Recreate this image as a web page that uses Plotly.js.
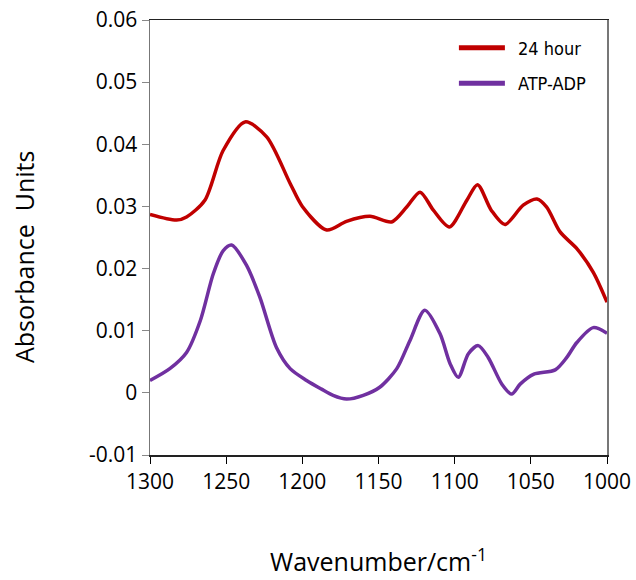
<!DOCTYPE html>
<html><head><meta charset="utf-8">
<script src="https://cdn.plot.ly/plotly-3.0.1.min.js"></script>
<style>body{margin:0;padding:0;background:#fff}#chart{width:636px;height:580px}</style>
</head><body><div id="chart"></div>
<script>
var wn24 = [1300,1282.5,1276,1264,1252,1237.6,1223.4,1208,1200,1184,1171,1155.6,1141.4,1131.5,1122.7,1114,1103.5,1092,1085,1076,1067,1055,1046,1039.6,1030.8,1019.8,1009,1000];
var abs24 = [0.0287,0.0278,0.0283,0.0310,0.0390,0.0436,0.0412,0.0337,0.0300,0.0262,0.0276,0.0284,0.0275,0.0299,0.0323,0.0294,0.0267,0.0310,0.0335,0.0294,0.0271,0.0302,0.0312,0.0299,0.0259,0.0232,0.0194,0.0146];
var wnATP = [1300,1287,1276,1267,1258.4,1251.9,1246.4,1236.6,1227.9,1217,1208,1197.2,1187.4,1179.8,1171,1160,1149.2,1138,1129.4,1119.6,1109.6,1103,1097.6,1091,1084.5,1078,1069,1062.6,1057,1048,1034,1026.4,1019.8,1009,1000];
var absATP = [0.0020,0.0039,0.0065,0.0116,0.0192,0.0229,0.0238,0.0205,0.0154,0.0073,0.0039,0.0020,0.0006,-0.0004,-0.0010,-0.0004,0.0009,0.0039,0.0084,0.0133,0.0095,0.0047,0.0025,0.0063,0.0076,0.0057,0.0014,-0.0002,0.0014,0.0030,0.0037,0.0057,0.0081,0.0105,0.0096];
var seriesNames = ['24 hour', 'ATP-ADP'];
var seriesColors = ['#C00000', '#7030A0'];
var xTicks = [1300,1250,1200,1150,1100,1050,1000];
var yTicks = [-0.01,0,0.01,0.02,0.03,0.04,0.05,0.06];
var yTickText = ['-0.01','0','0.01','0.02','0.03','0.04','0.05','0.06'];

var traces = [
 {x: wn24, y: abs24, name: seriesNames[0], mode: 'lines', showlegend: false, line: {color: seriesColors[0], width: 3.5, shape: 'spline', smoothing: 0.8}},
 {x: wnATP, y: absATP, name: seriesNames[1], mode: 'lines', showlegend: false, line: {color: seriesColors[1], width: 3.5, shape: 'spline', smoothing: 0.8}},
 {x: [null], y: [null], name: '\u2002' + seriesNames[0], legendgroup: 'a', mode: 'lines', line: {color: seriesColors[0], width: 5}},
 {x: [null], y: [null], name: '\u2002' + seriesNames[1], legendgroup: 'b', mode: 'lines', line: {color: seriesColors[1], width: 5}}
];
var font = 'Open Sans, Liberation Sans, Arial, sans-serif';
var layout = {
 width: 636, height: 580,
 margin: {l: 150, r: 29, t: 20, b: 125},
 paper_bgcolor: '#fff', plot_bgcolor: '#fff',
 showlegend: true,
 legend: {x: 0.665, y: 0.978, xanchor: 'left', yanchor: 'top', bgcolor: 'rgba(0,0,0,0)',
   font: {family: 'Liberation Sans Narrow, DejaVu Sans Condensed, sans-serif', size: 18, color: '#000'}, tracegroupgap: 9, itemwidth: 46},
 xaxis: {range: [1300, 1000], tickvals: xTicks, ticktext: xTicks.map(String), ticks: 'outside', ticklen: 7, tickcolor: '#000', tickwidth: 1,
   showline: true, linecolor: '#222', linewidth: 1.5, mirror: true, showgrid: false, zeroline: false,
   tickfont: {family: font, size: 21, color: '#000'},
   title: {text: 'Wavenumber/cm<sup>-1</sup>', font: {family: font, size: 25, color: '#000'}, standoff: 60}},
 yaxis: {range: [-0.01, 0.06], tickvals: yTicks, ticktext: yTickText, ticks: 'outside', ticklen: 7, tickcolor: '#888', tickwidth: 1,
   showline: true, linecolor: '#777', linewidth: 1.5, mirror: true, showgrid: false, zeroline: false,
   tickfont: {family: font, size: 21, color: '#000'}},
 annotations: [{text: 'Absorbance  Units', xref: 'paper', yref: 'paper', x: -0.2757, y: 0.455, xanchor: 'center', yanchor: 'middle',
   textangle: -90, showarrow: false, font: {family: font, size: 25, color: '#000'}}]
};
Plotly.newPlot('chart', traces, layout, {displayModeBar: false, staticPlot: true});
</script></body></html>
